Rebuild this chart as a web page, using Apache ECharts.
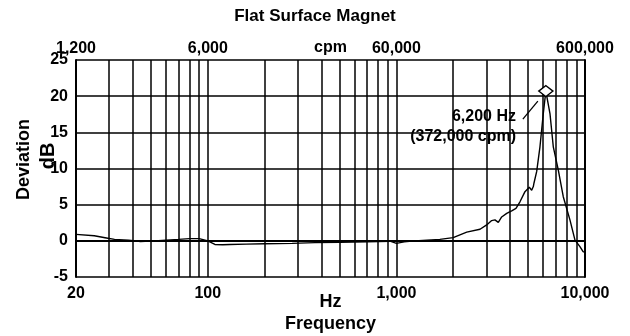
<!DOCTYPE html>
<html>
<head>
<meta charset="utf-8">
<script src="https://cdn.jsdelivr.net/npm/echarts@6/dist/echarts.min.js"></script>
<style>
html,body{margin:0;padding:0;background:#fff;}
#chart{width:630px;height:336px;}
</style>
</head>
<body>
<div id="chart"></div>
<script>
const freqHz = [20,25,29,32,38,44,52,60,70,80,90,100,109,120,131,160,200,280,370,500,700,925,1000,1100,1250,1450,1700,2000,2360,2775,3010,3200,3330,3470,3615,3845,4085,4305,4520,4805,5065,5215,5320,5365,5545,5770,6010,6200,6520,6790,7215,7670,8320,8850,9400,9770,10000];
const deviationDb = [0.9,0.7,0.4,0.2,0.1,-0.1,0.0,0.1,0.2,0.3,0.3,0.0,-0.5,-0.55,-0.5,-0.45,-0.4,-0.35,-0.25,-0.2,-0.15,-0.05,-0.35,-0.15,0.0,0.1,0.2,0.45,1.2,1.6,2.2,2.8,2.9,2.55,3.3,3.8,4.15,4.5,5.4,6.8,7.4,7.0,7.5,8.0,9.6,13.0,17.6,20.7,17.6,13.0,9.8,6.1,2.9,0.1,-0.8,-1.5,-1.6];
const gridHz = [20,30,40,50,60,70,80,90,100,200,300,400,500,600,700,800,900,1000,2000,3000,4000,5000,6000,7000,8000,9000,10000];
const hzLabels = [20,100,1000,10000];
const cpmLabels = [1200,6000,60000,600000];
const peak = {hz: 6200, db: 20.7, text: '6,200 Hz\n(372,000 cpm)'};

const fmt = v => Math.round(v).toLocaleString('en-US');
const font = 'Liberation Sans, Arial, sans-serif';
const chart = echarts.init(document.getElementById('chart'), null, {renderer: 'canvas'});
chart.setOption({
  animation: false,
  backgroundColor: '#fff',
  title: {
    text: 'Flat Surface Magnet', left: 'center', top: 3,
    textStyle: {fontFamily: font, fontWeight: 'bold', fontSize: 17, color: '#000'}
  },
  grid: {left: 76, right: 45, top: 60, bottom: 59, containLabel: false, outerBoundsMode: 'none'},
  xAxis: [{
    type: 'log', logBase: 10, min: 20, max: 10000, position: 'bottom',
    name: 'Hz\nFrequency', nameLocation: 'middle', nameGap: 14, nameMoveOverlap: false,
    nameTextStyle: {fontFamily: font, fontWeight: 'bold', fontSize: 18, color: '#000', lineHeight: 22},
    axisLine: {show: true, lineStyle: {color: '#000', width: 2}},
    axisTick: {show: false, customValues: gridHz},
    splitLine: {show: true, lineStyle: {color: '#000', width: 1.5}},
    axisLabel: {customValues: hzLabels, formatter: fmt, margin: 9,
      fontFamily: font, fontWeight: 'bold', fontSize: 16, color: '#000'}
  }, {
    type: 'log', logBase: 10, min: 1200, max: 600000, position: 'top',
    name: 'cpm', nameLocation: 'middle', nameGap: 4, nameMoveOverlap: false,
    nameTextStyle: {fontFamily: font, fontWeight: 'bold', fontSize: 16, color: '#000'},
    axisLine: {show: true, lineStyle: {color: '#000', width: 2}},
    axisTick: {show: false, customValues: cpmLabels},
    splitLine: {show: false},
    axisLabel: {customValues: cpmLabels, formatter: fmt, margin: 3,
      fontFamily: font, fontWeight: 'bold', fontSize: 16, color: '#000'}
  }],
  yAxis: [{
    type: 'value', min: -5, max: 25, interval: 5, position: 'left',
    name: 'Deviation', nameLocation: 'middle', nameGap: 43, nameRotate: 90, nameMoveOverlap: false,
    nameTextStyle: {fontFamily: font, fontWeight: 'bold', fontSize: 18, color: '#000', padding: [0, 0, 0, 18]},
    axisLine: {show: true, lineStyle: {color: '#000', width: 2}},
    axisTick: {show: false},
    splitLine: {show: true, lineStyle: {color: '#000', width: 1.5}},
    axisLabel: {margin: 8, fontFamily: font, fontWeight: 'bold', fontSize: 16, color: '#000'}
  }, {
    type: 'value', min: -5, max: 25, interval: 5, position: 'right',
    axisLine: {show: true, lineStyle: {color: '#000', width: 2}},
    axisTick: {show: false}, axisLabel: {show: false}, splitLine: {show: false}
  }, {
    type: 'value', min: -5, max: 25, interval: 5, position: 'left', offset: 0,
    name: 'dB', nameLocation: 'middle', nameGap: 18, nameRotate: 90, nameMoveOverlap: false,
    nameTextStyle: {fontFamily: font, fontWeight: 'bold', fontSize: 20, color: '#000', padding: [0, 0, 0, 25]},
    axisLine: {show: false}, axisTick: {show: false}, axisLabel: {show: false}, splitLine: {show: false}
  }],
  series: [{
    type: 'line', xAxisIndex: 0, yAxisIndex: 0,
    data: freqHz.map((f, i) => [f, deviationDb[i]]),
    showSymbol: false, smooth: false,
    lineStyle: {color: '#000', width: 1.4},
    markPoint: {
      symbol: 'diamond', symbolSize: [14, 11],
      itemStyle: {color: '#fff', borderColor: '#000', borderWidth: 1.5},
      label: {show: true, formatter: peak.text, position: 'left', distance: 22, offset: [0, 35],
        align: 'right', fontFamily: font, fontWeight: 'bold', fontSize: 16, color: '#000', lineHeight: 20},
      data: [{coord: [peak.hz, peak.db]}]
    }
  }]
});
// leader line from annotation text toward the peak marker
const p0 = chart.convertToPixel({xAxisIndex: 0, yAxisIndex: 0}, [peak.hz, peak.db]);
chart.setOption({
  graphic: [{
    type: 'line', silent: true,
    shape: {x1: p0[0] - 23, y1: p0[1] + 28, x2: p0[0] - 8, y2: p0[1] + 10},
    style: {stroke: '#000', lineWidth: 1.3}
  }]
});
</script>
</body>
</html>
